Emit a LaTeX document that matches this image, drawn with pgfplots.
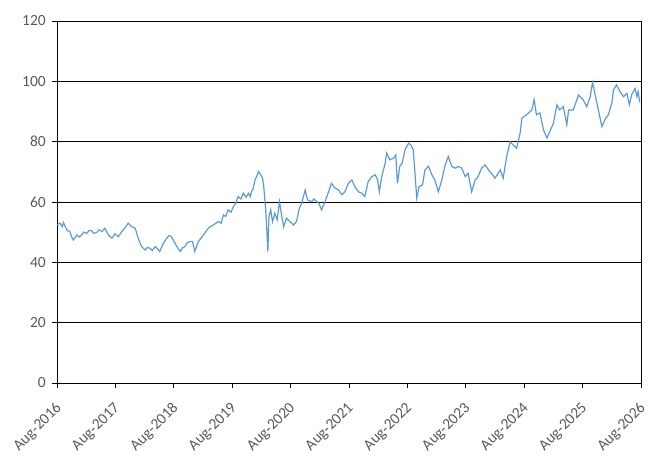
\documentclass[border=0pt]{standalone}
\usepackage{fontspec}
\setmainfont{Carlito}
\usepackage{pgfplots}
\pgfplotsset{compat=1.18}
\definecolor{lineblue}{HTML}{5B9BD5}
\definecolor{labgray}{HTML}{595959}
\begin{document}
\begin{tikzpicture}
\begin{axis}[
  scale only axis,
  width=584pt, height=362pt,
  xmin=0, xmax=10, ymin=0, ymax=120,
  xtick={0,1,...,10},
  xticklabels={Aug-2016,Aug-2017,Aug-2018,Aug-2019,Aug-2020,Aug-2021,Aug-2022,Aug-2023,Aug-2024,Aug-2025,Aug-2026},
  ytick={0,20,...,120},
  ymajorgrids,
  grid style={black, line width=0.9pt},
  axis line style={black, line width=0.9pt},
  tick style={black, line width=0.9pt},
  tick align=outside,
  major tick length=5pt,
  xtick pos=lower, ytick pos=left,
  /pgf/number format/assume math mode=true,
  ticklabel style={font=\fontsize{15.5}{17}\selectfont, text=labgray},
  xticklabel style={xshift=3pt, yshift=-17pt, rotate=45, anchor=east, inner sep=1pt},
  yticklabel style={xshift=-5pt, inner sep=1pt},
]
\addplot[lineblue, line width=1.2pt] coordinates {
(0.00,52.4)(0.05,53.0)(0.09,51.8)(0.11,53.2)(0.17,50.7)(0.22,50.2)(0.25,48.5)(0.28,47.4)
(0.34,49.1)(0.38,48.4)(0.42,49.1)(0.46,50.0)(0.51,49.6)(0.55,50.6)(0.59,50.5)(0.63,49.6)
(0.68,49.9)(0.72,50.8)(0.77,50.2)(0.82,51.3)(0.88,49.1)(0.94,48.0)(0.99,49.4)(1.05,48.5)
(1.11,50.2)(1.16,51.3)(1.22,53.0)(1.28,51.8)(1.34,51.3)(1.39,48.0)(1.45,45.2)(1.51,44.1)
(1.55,44.9)(1.59,44.7)(1.63,43.9)(1.68,45.2)(1.72,44.5)(1.76,43.6)(1.82,46.3)(1.88,48.0)
(1.92,48.9)(1.96,48.5)(2.02,46.3)(2.06,45.0)(2.11,43.6)(2.15,44.8)(2.19,45.2)(2.23,46.5)
(2.28,46.9)(2.32,46.9)(2.36,43.6)(2.42,46.9)(2.51,49.1)(2.59,51.3)(2.68,52.4)(2.76,53.5)
(2.81,53.0)(2.85,55.7)(2.89,55.2)(2.93,57.4)(2.98,56.6)(3.02,58.5)(3.06,59.5)(3.10,61.8)
(3.15,61.0)(3.19,62.9)(3.24,61.6)(3.28,62.9)(3.31,61.8)(3.33,63.4)(3.36,64.5)(3.39,67.3)
(3.42,68.5)(3.45,70.1)(3.49,69.0)(3.52,67.9)(3.54,65.1)(3.57,58.5)(3.59,51.8)(3.61,43.6)
(3.63,55.2)(3.66,57.4)(3.69,53.5)(3.73,56.3)(3.77,54.1)(3.81,60.1)(3.84,56.3)(3.88,51.8)
(3.93,54.6)(3.99,53.5)(4.05,52.4)(4.10,53.5)(4.15,57.9)(4.19,59.6)(4.25,64.0)(4.29,60.7)
(4.36,60.1)(4.40,61.0)(4.45,60.1)(4.49,59.3)(4.53,57.4)(4.59,60.1)(4.65,63.4)(4.70,66.2)
(4.76,64.6)(4.82,64.0)(4.88,62.4)(4.93,63.4)(4.99,66.2)(5.05,67.3)(5.10,65.1)(5.16,63.4)
(5.22,62.9)(5.27,61.8)(5.33,66.8)(5.39,68.4)(5.45,69.0)(5.49,67.3)(5.52,63.4)(5.56,68.4)
(5.62,72.9)(5.645,76.2)(5.70,74.0)(5.76,74.5)(5.80,75.6)(5.83,66.2)(5.87,71.8)(5.91,72.9)
(5.96,77.3)(6.02,79.5)(6.06,78.9)(6.10,77.3)(6.13,69.5)(6.16,61.3)(6.20,65.1)(6.26,65.7)
(6.30,70.6)(6.36,71.8)(6.42,69.0)(6.47,67.3)(6.53,63.4)(6.59,67.3)(6.64,71.8)(6.70,75.1)
(6.76,71.8)(6.82,71.2)(6.87,71.8)(6.93,71.2)(6.99,68.4)(7.04,69.5)(7.10,63.4)(7.16,67.3)
(7.21,68.4)(7.27,71.2)(7.33,72.3)(7.39,70.6)(7.44,69.5)(7.50,67.9)(7.59,70.6)(7.64,67.9)
(7.70,75.1)(7.76,80.0)(7.81,78.9)(7.87,77.8)(7.93,82.8)(7.96,87.8)(8.04,88.9)(8.13,90.5)
(8.17,93.9)(8.21,88.9)(8.27,89.5)(8.33,83.9)(8.39,81.2)(8.44,83.4)(8.50,86.1)(8.56,92.2)
(8.61,90.5)(8.67,91.6)(8.73,85.6)(8.76,90.5)(8.84,90.5)(8.93,95.5)(9.01,93.9)(9.07,91.6)
(9.13,94.9)(9.17,99.6)(9.21,96.0)(9.27,90.5)(9.33,85.0)(9.38,87.2)(9.44,88.9)(9.50,92.7)
(9.53,97.2)(9.58,98.8)(9.64,96.6)(9.70,94.9)(9.76,96.0)(9.80,92.2)(9.84,95.5)(9.90,97.7)
(9.93,94.9)(9.95,96.6)(9.98,93.0)
};
\end{axis}
\pgfresetboundingbox
\path ([xshift=-57pt,yshift=-91pt]current axis.south west) rectangle ([xshift=16pt,yshift=21pt]current axis.north east);
\end{tikzpicture}
\end{document}
